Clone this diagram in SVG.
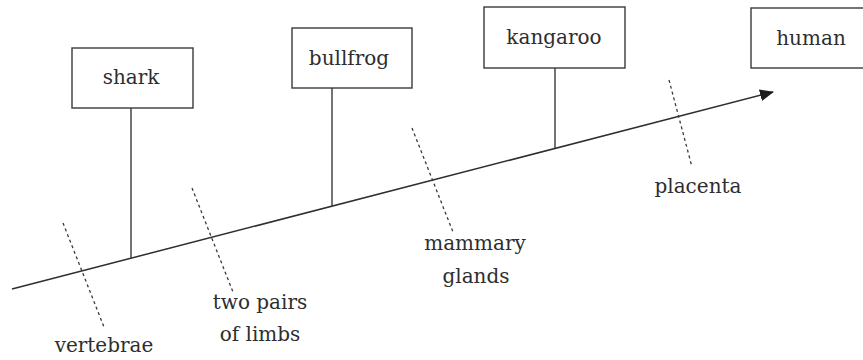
<svg xmlns="http://www.w3.org/2000/svg" width="863" height="360" viewBox="0 0 863 360">
<style>
  .box { fill: #fff; stroke: #3a3a3a; stroke-width: 1.4; }
  .stem { stroke: #3a3a3a; stroke-width: 1.4; fill: none; }
  .axis { stroke: #2e2e2e; stroke-width: 1.5; fill: none; }
  .dash { stroke: #3a3a3a; stroke-width: 1.3; stroke-dasharray: 3 3; fill: none; }
  .lbl { font-family: 'DejaVu Serif', 'Liberation Serif', serif; font-size: 20px; fill: #2e2e2e; text-anchor: middle; }
</style>
<defs>
  <marker id="arrow" markerWidth="14" markerHeight="12" refX="13" refY="6" orient="auto" markerUnits="userSpaceOnUse">
    <path d="M0,0 L14,6 L0,12 Z" fill="#1e1e1e"/>
  </marker>
</defs>
<rect width="863" height="360" fill="#fff"/>
<g id="connectors">
  <line class="axis" x1="12" y1="289" x2="773" y2="92" marker-end="url(#arrow)"/>
  <line class="stem" x1="131" y1="108" x2="131" y2="258"/>
  <line class="stem" x1="332" y1="88" x2="332" y2="206"/>
  <line class="stem" x1="555" y1="68" x2="555" y2="148"/>
  <line class="dash" x1="63" y1="223" x2="104" y2="327"/>
  <line class="dash" x1="192" y1="188" x2="233" y2="292"/>
  <line class="dash" x1="412" y1="128" x2="453" y2="232"/>
  <line class="dash" x1="669" y1="80" x2="692" y2="167"/>
</g>
<g id="shark">
  <rect class="box" x="72" y="48" width="121" height="60"/>
  <text class="lbl" x="131" y="84">shark</text>
</g>
<g id="bullfrog">
  <rect class="box" x="292" y="28" width="120" height="60"/>
  <text class="lbl" x="349" y="65">bullfrog</text>
</g>
<g id="kangaroo">
  <rect class="box" x="484" y="7" width="141" height="61"/>
  <text class="lbl" x="554" y="44">kangaroo</text>
</g>
<g id="human">
  <rect class="box" x="751" y="8" width="120" height="60"/>
  <text class="lbl" x="811" y="45">human</text>
</g>
<g id="vertebrae">
  <text class="lbl" x="104" y="352">vertebrae</text>
</g>
<g id="limbs">
  <text class="lbl" x="260" y="309">two pairs</text>
  <text class="lbl" x="260" y="341">of limbs</text>
</g>
<g id="mammary">
  <text class="lbl" x="475" y="250">mammary</text>
  <text class="lbl" x="476" y="283">glands</text>
</g>
<g id="placenta">
  <text class="lbl" x="698" y="193">placenta</text>
</g>
</svg>
